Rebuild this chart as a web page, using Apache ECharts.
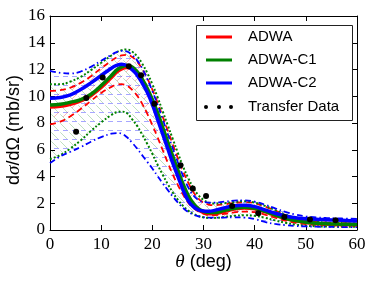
<!DOCTYPE html>
<html><head><meta charset="utf-8">
<script src="https://cdn.jsdelivr.net/npm/echarts@6/dist/echarts.min.js"></script>
<style>html,body{margin:0;padding:0;background:#fff}#c{width:374px;height:282px}</style>
</head><body><div id="c"></div>
<script>
// ---- data ----
const theta = [0,2,4,6,8,10,12,13,14,15,16,17,18,19,20,21,22,23,24,25,26,27,28,29,30,31,32,34,36,38,40,42,44,46,48,50,52,54,56,58,60];
const adwa   = [9.2,9.25,9.4,9.65,10.05,10.65,11.4,11.8,12.05,12.15,12.05,11.7,11.15,10.45,9.6,8.6,7.5,6.4,5.3,4.25,3.3,2.45,1.85,1.5,1.3,1.22,1.22,1.38,1.56,1.65,1.58,1.37,1.1,0.86,0.68,0.56,0.48,0.44,0.42,0.41,0.4];
const adwaC1 = [9.35,9.4,9.55,9.75,10.15,10.8,11.55,11.95,12.2,12.3,12.2,11.85,11.3,10.6,9.75,8.8,7.7,6.6,5.5,4.45,3.45,2.6,2.0,1.6,1.4,1.3,1.3,1.45,1.62,1.7,1.62,1.4,1.12,0.88,0.7,0.58,0.5,0.46,0.44,0.43,0.42];
const adwaC2 = [9.85,9.9,10.1,10.5,11.0,11.55,12.1,12.3,12.4,12.3,12.0,11.6,11.0,10.3,9.4,8.3,7.2,6.1,5.0,4.0,3.0,2.2,1.75,1.5,1.42,1.4,1.45,1.65,1.82,1.85,1.75,1.5,1.25,1.05,0.92,0.85,0.8,0.77,0.74,0.71,0.68];
const adwaUp   = [10.4,10.45,10.65,11.0,11.5,12.1,12.65,12.9,13.05,13.1,12.95,12.6,12.05,11.35,10.5,9.55,8.5,7.45,6.4,5.35,4.4,3.55,2.85,2.35,2.05,1.9,1.85,1.92,2.02,2.08,2.0,1.75,1.45,1.13,0.88,0.72,0.62,0.56,0.53,0.5,0.48];
const adwaLow  = [7.9,8.1,8.5,9.05,9.65,10.25,10.7,10.85,10.9,10.8,10.5,10.05,9.45,8.7,7.85,6.95,6.0,5.05,4.15,3.35,2.65,2.05,1.65,1.38,1.22,1.12,1.1,1.2,1.32,1.38,1.33,1.15,0.92,0.7,0.54,0.44,0.38,0.35,0.33,0.32,0.32];
const c1Up     = [10.9,10.9,11.1,11.45,11.95,12.5,13.05,13.3,13.45,13.5,13.35,13.0,12.45,11.75,10.9,9.95,8.9,7.85,6.8,5.75,4.75,3.9,3.15,2.6,2.25,2.05,1.98,2.0,2.1,2.15,2.05,1.8,1.48,1.15,0.9,0.72,0.62,0.56,0.53,0.5,0.48];
const c1Low    = [5.3,5.6,6.1,6.7,7.4,8.05,8.6,8.8,8.85,8.75,8.3,7.8,7.15,6.45,5.7,4.9,4.15,3.45,2.8,2.25,1.8,1.45,1.2,1.05,0.95,0.9,0.9,0.98,1.06,1.1,1.06,0.92,0.72,0.54,0.4,0.32,0.28,0.26,0.25,0.25,0.25];
const c2Up     = [11.9,11.75,11.7,11.85,12.2,12.65,13.1,13.3,13.4,13.35,13.1,12.7,12.1,11.3,10.4,9.4,8.3,7.2,6.1,5.05,4.05,3.2,2.6,2.25,2.1,2.05,2.05,2.12,2.2,2.22,2.12,1.9,1.62,1.35,1.15,1.02,0.95,0.9,0.87,0.85,0.83];
const c2Low    = [5.0,5.5,5.85,6.2,6.6,6.95,7.2,7.25,7.2,6.95,6.55,6.1,5.6,5.1,4.6,4.05,3.5,3.0,2.5,2.05,1.65,1.35,1.15,1.02,0.95,0.92,0.92,0.93,0.95,0.93,0.82,0.6,0.45,0.36,0.3,0.27,0.25,0.24,0.23,0.22,0.22];
const dataTheta = [5.1,7.1,10.3,15.4,17.8,20.4,25.5,27.9,30.5,35.6,40.7,45.8,50.8,55.8];
const dataSigma = [7.35,9.86,11.4,12.25,11.57,9.43,4.85,3.1,2.55,1.8,1.26,0.98,0.78,0.73];
const names = ['ADWA','ADWA-C1','ADWA-C2','Transfer Data'];
const xTicks = [0,10,20,30,40,50,60];
const yTicks = [0,2,4,6,8,10,12,14,16];

// ---- build ----
const RED='#ff0000', GREEN='#008000', BLUE='#0000ff';
const pairs = ys => theta.map((t,i)=>[t, ys[i]]);

function hatch(kind, color){
  const s = 9;
  const c = document.createElement('canvas'); c.width = s; c.height = s;
  const g = c.getContext('2d'); g.strokeStyle = color; g.lineWidth = 1;
  g.beginPath();
  if (kind === '-') { g.moveTo(0, 4.5); g.lineTo(5, 4.5); }
  else if (kind === '/') { g.moveTo(0, s); g.lineTo(s*0.6, s*0.4); }
  else { g.moveTo(0, 0); g.lineTo(s*0.45, s*0.45); g.moveTo(s*0.7, s*0.7); g.lineTo(s, s); }
  g.stroke();
  return c;
}

function hatchBand(lower, upper, kind, color){
  const img = hatch(kind, color);
  return {
    type:'custom', silent:true, z:1, clip:true, data:[[0,0]],
    renderItem:function(params, api){
      const pts = [];
      for (let i=0;i<theta.length;i++) pts.push(api.coord([theta[i], upper[i]]));
      for (let i=theta.length-1;i>=0;i--) pts.push(api.coord([theta[i], lower[i]]));
      return {type:'polygon', shape:{points:pts}, style:{fill:{image:img, repeat:'repeat'}, stroke:null}};
    }
  };
}
function edge(ys, color, type, width){
  return {type:'line', data:pairs(ys), smooth:0.4, symbol:'none', silent:true, lineStyle:{color:color, width:width, type:type}, z:2};
}

const series = [
  hatchBand(adwaLow, adwaUp, '/', 'rgba(255,0,0,0.28)'),
  hatchBand(c1Low, c1Up, '\\', 'rgba(0,128,0,0.25)'),
  hatchBand(c2Low, c2Up, '-', 'rgba(0,0,255,0.35)'),
  edge(adwaLow, RED, [6,4], 1.8), edge(adwaUp, RED, [6,4], 1.8),
  edge(c1Low, GREEN, [2,2], 2), edge(c1Up, GREEN, [2,2], 2),
  edge(c2Low, BLUE, [6,3,1.5,3], 1.8), edge(c2Up, BLUE, [6,3,1.5,3], 1.8),
  {name:names[0], type:'line', data:pairs(adwa), smooth:0.4, symbol:'none', lineStyle:{color:RED, width:3.5}, z:3},
  {name:names[1], type:'line', data:pairs(adwaC1), smooth:0.4, symbol:'none', lineStyle:{color:GREEN, width:3.5}, z:3},
  {name:names[2], type:'line', data:pairs(adwaC2), smooth:0.4, symbol:'none', lineStyle:{color:BLUE, width:3.5}, z:3},
  {name:names[3], type:'scatter', data:dataTheta.map((t,i)=>[t,dataSigma[i]]), symbolSize:6, itemStyle:{color:'#000', opacity:1}, z:4}
];

const axisCommon = {
  type:'value', axisLine:{show:true, onZero:false, lineStyle:{color:'#000', width:1}},
  axisTick:{show:true, inside:true, length:5, lineStyle:{color:'#000', width:1}},
  splitLine:{show:false}, minorTick:{show:false}
};
const tickFont = {fontFamily:'"Liberation Serif", serif', fontSize:17, color:'#000'};

const legendY = [37, 60, 83, 107];
const legendColors = [RED, GREEN, BLUE];
const graphic = [
  {type:'rect', shape:{x:196.5, y:25.5, width:156, height:95}, style:{fill:'#fff', stroke:'#222', lineWidth:1}, z:100}
];
legendColors.forEach((c,i)=>{
  graphic.push({type:'line', shape:{x1:206, y1:legendY[i], x2:232, y2:legendY[i]}, style:{stroke:c, lineWidth:3}, z:101});
});
[206,219,231].forEach(x=>graphic.push({type:'circle', shape:{cx:x, cy:legendY[3], r:2}, style:{fill:'#000'}, z:101}));
names.forEach((n,i)=>{
  graphic.push({type:'text', x:248, y:legendY[i], style:{text:n, verticalAlign:'middle', align:'left', font:'15px "Liberation Sans", Arial, sans-serif', fill:'#000'}, z:101});
});
graphic.push({type:'text', x:203.5, y:262, style:{text:'{t|θ}{n| (deg)}', align:'center', verticalAlign:'middle',
  rich:{t:{fontFamily:'"Liberation Serif", serif', fontStyle:'italic', fontSize:19, fill:'#000'}, n:{fontFamily:'"Liberation Sans", sans-serif', fontSize:18, fill:'#000'}}}, z:101});
graphic.push({type:'text', x:14, y:130, rotation:Math.PI/2, style:{text:'{n|d}{t|σ}{n|/dΩ (mb/sr)}', align:'center', verticalAlign:'middle',
  rich:{t:{fontFamily:'"Liberation Serif", serif', fontStyle:'italic', fontSize:19, fill:'#000'}, n:{fontFamily:'"Liberation Sans", sans-serif', fontSize:18, fill:'#000'}}}, z:101});

const chart = echarts.init(document.getElementById('c'), null, {renderer:'canvas'});
chart.setOption({
  animation:false,
  backgroundColor:'#fff',
  grid:{left:50, right:17, top:16, bottom:52, containLabel:false, outerBoundsMode:'none'},
  xAxis:[
    Object.assign({}, axisCommon, {min:xTicks[0], max:xTicks[xTicks.length-1], interval:10, position:'bottom',
      axisLabel:Object.assign({margin:6}, tickFont)}),
    Object.assign({}, axisCommon, {min:xTicks[0], max:xTicks[xTicks.length-1], interval:10, position:'top', axisLabel:{show:false}})
  ],
  yAxis:[
    Object.assign({}, axisCommon, {min:yTicks[0], max:yTicks[yTicks.length-1], interval:2, position:'left',
      axisLabel:Object.assign({margin:5}, tickFont)}),
    Object.assign({}, axisCommon, {min:yTicks[0], max:yTicks[yTicks.length-1], interval:2, position:'right', axisLabel:{show:false}})
  ],
  series:series,
  graphic:graphic
});
</script></body></html>
